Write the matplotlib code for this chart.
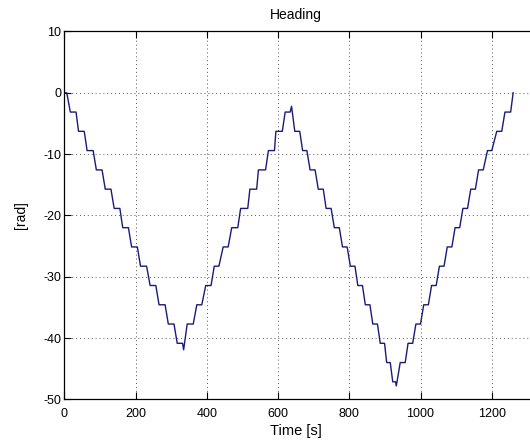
import matplotlib
matplotlib.use("Agg")
import matplotlib.pyplot as plt

# Corner points of the heading trace
time = [0, 7, 17, 33, 40, 56, 64, 81, 90, 106, 115, 131, 140, 156, 164, 180,
        189, 205, 214, 231, 241, 257, 266, 283, 292, 308, 317, 332, 335,
        345, 362, 372, 386, 397, 412, 421, 434, 446, 460, 470, 487, 495, 515,
        521, 540, 545, 565, 573, 590, 594, 612, 620, 634, 638,
        647, 661, 669, 681, 690, 704, 713, 727, 735, 749, 758, 772,
        781, 794, 803, 816, 824, 837, 845, 858, 866, 879, 887, 899,
        905, 915, 922, 930, 932,
        943, 957, 965, 978, 987, 1000, 1009, 1022, 1031, 1044, 1053, 1066,
        1075, 1088, 1097, 1110, 1119, 1132, 1141, 1154, 1163, 1176, 1188, 1200,
        1214, 1228, 1237, 1253, 1260]
heading = [0, 0, -3.14, -3.14, -6.28, -6.28, -9.42, -9.42, -12.57, -12.57,
           -15.71, -15.71, -18.85, -18.85, -21.99, -21.99, -25.13, -25.13,
           -28.27, -28.27, -31.42, -31.42, -34.56, -34.56, -37.70, -37.70,
           -40.84, -40.84, -41.9,
           -37.70, -37.70, -34.56, -34.56, -31.42, -31.42, -28.27, -28.27,
           -25.13, -25.13, -21.99, -21.99, -18.85, -18.85, -15.71, -15.71,
           -12.57, -12.57, -9.42, -9.42, -6.28, -6.28, -3.14, -3.14, -2.2,
           -6.28, -6.28, -9.42, -9.42, -12.57, -12.57, -15.71, -15.71,
           -18.85, -18.85, -21.99, -21.99,
           -25.13, -25.13, -28.27, -28.27, -31.42, -31.42, -34.56, -34.56,
           -37.70, -37.70, -40.84, -40.84,
           -43.98, -43.98, -47.12, -47.12, -47.8,
           -43.98, -43.98, -40.84, -40.84, -37.70, -37.70, -34.56, -34.56,
           -31.42, -31.42, -28.27, -28.27, -25.13, -25.13, -21.99, -21.99,
           -18.85, -18.85, -15.71, -15.71, -12.57, -12.57, -9.42, -9.42,
           -6.28, -6.28, -3.14, -3.14, 0]

xticks = [0, 200, 400, 600, 800, 1000, 1200]
yticks = [-50, -40, -30, -20, -10, 0, 10]

plt.rcParams['font.family'] = ['Liberation Sans', 'DejaVu Sans']
plt.rcParams['axes.unicode_minus'] = False

fig = plt.figure(figsize=(5.30, 4.42), dpi=100)
# axes extends past the right edge of the figure (cropped as in the reference)
ax = fig.add_axes([0.1213, 0.0962, 0.941, 0.8326])
ax.plot(time, heading, color='#1a1a7a', linewidth=1.0)

ax.set_xlim(0, 1400)
ax.set_ylim(-50, 10)
ax.set_xticks(xticks)
ax.set_yticks(yticks)
ax.tick_params(direction='in', length=5, width=0.8, labelsize=9,
               top=True, right=True)
ax.tick_params(axis='x', pad=6)
ax.tick_params(axis='y', pad=2)
ax.grid(True, linestyle=(0, (1, 3)), color='#555555', linewidth=0.7)
for s in ax.spines.values():
    s.set_linewidth(0.9)

cx = 0.4646  # visible centre of the plot area
ax.set_title('Heading', fontsize=10, pad=9, x=cx)
ax.set_xlabel('Time [s]', fontsize=10.5, labelpad=3)
ax.xaxis.label.set_x(cx)
ax.set_ylabel('[rad]', fontsize=10, labelpad=11)

fig.savefig('out.png', dpi=100)
